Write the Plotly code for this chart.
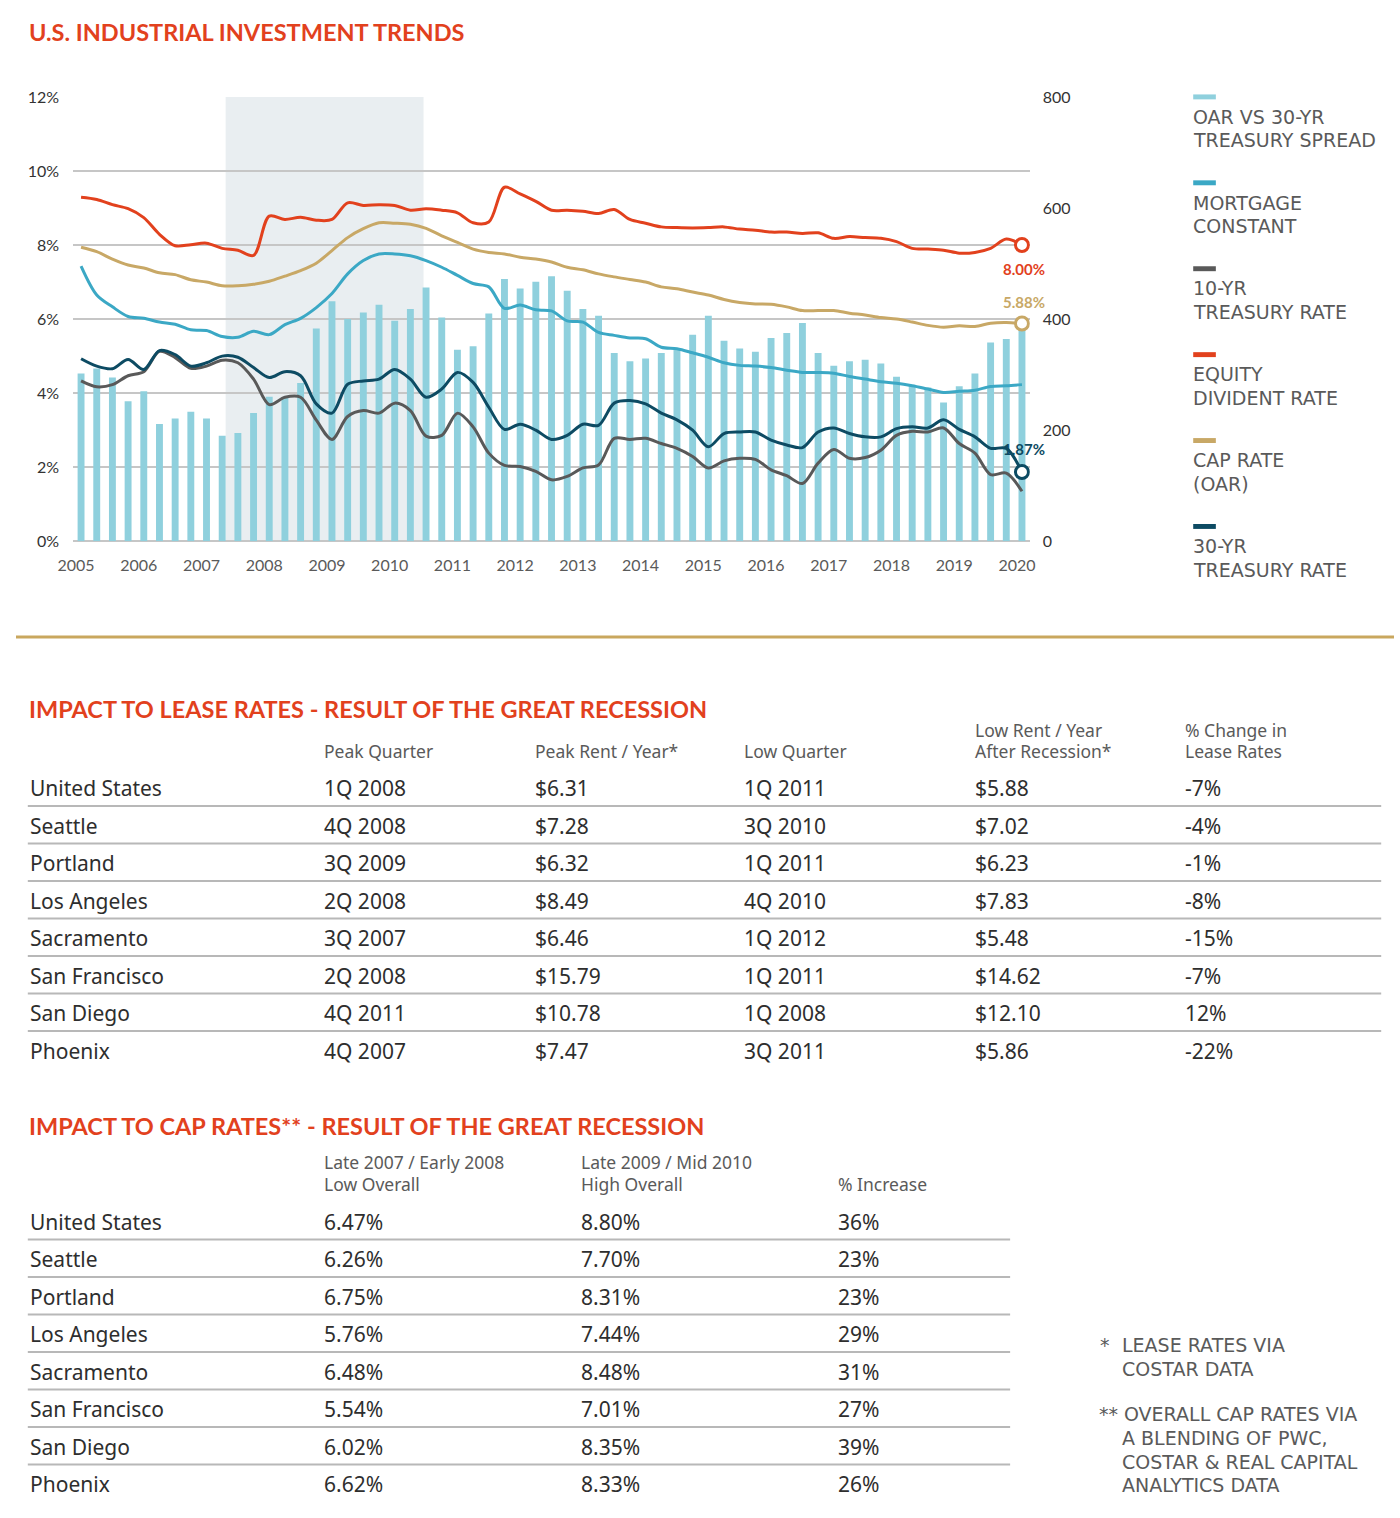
import plotly.graph_objects as go

W, H = 1400, 1518

# ---------------- DATA ----------------
quarters = [f"{y}Q{q}" for y in range(2005, 2021) for q in range(1, 5)][:61]

spread_bps = [302, 311, 295, 252, 270, 211, 221, 233, 221, 190,
              195, 231, 260, 259, 285, 383, 432, 400, 412, 426,
              397, 418, 457, 403, 345, 351, 410, 472, 455, 467,
              477, 451, 418, 406, 339, 324, 329, 339, 347, 372,
              406, 361, 347, 341, 366, 375, 393, 339, 316, 324,
              327, 320, 296, 280, 277, 250, 279, 302, 358, 364,
              391]

mortgage_constant = [7.43, 6.65, 6.33, 6.07, 6.02, 5.92, 5.86, 5.71, 5.69, 5.53,
                     5.51, 5.67, 5.58, 5.85, 6.02, 6.31, 6.69, 7.22, 7.58, 7.76,
                     7.76, 7.71, 7.58, 7.40, 7.18, 6.96, 6.87, 6.29, 6.38, 6.25,
                     6.22, 5.95, 5.92, 5.64, 5.56, 5.49, 5.47, 5.24, 5.20, 5.09,
                     4.97, 4.82, 4.75, 4.73, 4.69, 4.62, 4.56, 4.56, 4.54, 4.45,
                     4.38, 4.31, 4.27, 4.20, 4.11, 4.02, 4.05, 4.08, 4.18, 4.20,
                     4.23]

treasury_10yr = [4.33, 4.17, 4.23, 4.47, 4.58, 5.13, 4.96, 4.67, 4.73, 4.89,
                 4.82, 4.38, 3.69, 3.89, 3.89, 3.27, 2.75, 3.37, 3.53, 3.46,
                 3.73, 3.53, 2.84, 2.86, 3.46, 3.09, 2.38, 2.05, 2.02, 1.89,
                 1.66, 1.75, 1.98, 2.06, 2.78, 2.75, 2.78, 2.64, 2.51, 2.29,
                 1.98, 2.17, 2.24, 2.21, 1.93, 1.77, 1.56, 2.11, 2.48, 2.24,
                 2.26, 2.46, 2.86, 2.97, 2.95, 3.06, 2.64, 2.38, 1.80, 1.84,
                 1.35]

equity_dividend = [9.29, 9.23, 9.09, 8.98, 8.74, 8.29, 7.98, 8.01, 8.05, 7.91,
                   7.86, 7.72, 8.78, 8.69, 8.75, 8.67, 8.69, 9.14, 9.07, 9.09,
                   9.07, 8.94, 8.98, 8.94, 8.87, 8.60, 8.62, 9.56, 9.38, 9.18,
                   8.94, 8.94, 8.91, 8.85, 8.96, 8.69, 8.59, 8.49, 8.47, 8.46,
                   8.47, 8.49, 8.43, 8.40, 8.35, 8.35, 8.31, 8.33, 8.18, 8.23,
                   8.20, 8.18, 8.09, 7.91, 7.89, 7.86, 7.78, 7.80, 7.91, 8.16,
                   8.00]

cap_rate = [7.94, 7.82, 7.62, 7.46, 7.38, 7.25, 7.20, 7.06, 7.00, 6.90,
            6.90, 6.94, 7.02, 7.16, 7.31, 7.51, 7.85, 8.20, 8.44, 8.60,
            8.59, 8.56, 8.45, 8.25, 8.07, 7.89, 7.80, 7.76, 7.67, 7.62,
            7.54, 7.40, 7.33, 7.22, 7.14, 7.07, 7.00, 6.87, 6.82, 6.73,
            6.65, 6.53, 6.45, 6.41, 6.40, 6.33, 6.23, 6.23, 6.23, 6.16,
            6.11, 6.04, 6.00, 5.92, 5.83, 5.78, 5.82, 5.80, 5.89, 5.91,
            5.88]

treasury_30yr = [4.93, 4.73, 4.66, 4.91, 4.64, 5.15, 5.04, 4.73, 4.82, 5.00,
                 4.97, 4.69, 4.42, 4.58, 4.47, 3.71, 3.46, 4.24, 4.33, 4.38,
                 4.64, 4.38, 3.89, 4.11, 4.56, 4.29, 3.62, 3.02, 3.16, 3.00,
                 2.75, 2.86, 3.16, 3.13, 3.73, 3.80, 3.71, 3.46, 3.28, 3.00,
                 2.55, 2.91, 2.95, 2.95, 2.73, 2.60, 2.53, 2.95, 3.06, 2.91,
                 2.82, 2.82, 3.04, 3.09, 3.06, 3.28, 3.02, 2.82, 2.51, 2.51,
                 1.87]

years = list(range(2005, 2021))
pct_ticks = [0, 2, 4, 6, 8, 10, 12]
bps_ticks = [0, 200, 400, 600, 800]
recession_start, recession_end = 2007.385, 2010.54

legend_labels = [
    ("OAR VS 30-YR", "TREASURY SPREAD"),
    ("MORTGAGE", "CONSTANT"),
    ("10-YR", "TREASURY RATE"),
    ("EQUITY", "DIVIDENT RATE"),
    ("CAP RATE", "(OAR)"),
    ("30-YR", "TREASURY RATE"),
]

cities = ["United States", "Seattle", "Portland", "Los Angeles",
          "Sacramento", "San Francisco", "San Diego", "Phoenix"]
peak_quarter = ["1Q 2008", "4Q 2008", "3Q 2009", "2Q 2008", "3Q 2007", "2Q 2008", "4Q 2011", "4Q 2007"]
peak_rent = ["$6.31", "$7.28", "$6.32", "$8.49", "$6.46", "$15.79", "$10.78", "$7.47"]
low_quarter = ["1Q 2011", "3Q 2010", "1Q 2011", "4Q 2010", "1Q 2012", "1Q 2011", "1Q 2008", "3Q 2011"]
low_rent = ["$5.88", "$7.02", "$6.23", "$7.83", "$5.48", "$14.62", "$12.10", "$5.86"]
lease_change = ["-7%", "-4%", "-1%", "-8%", "-15%", "-7%", "12%", "-22%"]

cap_low = ["6.47%", "6.26%", "6.75%", "5.76%", "6.48%", "5.54%", "6.02%", "6.62%"]
cap_high = ["8.80%", "7.70%", "8.31%", "7.44%", "8.48%", "7.01%", "8.35%", "8.33%"]
cap_increase = ["36%", "23%", "23%", "29%", "31%", "27%", "39%", "26%"]

# ---------------- STYLE ----------------
RED = "#e2411d"
TAN = "#c8a866"
MORT = "#3ba8c5"
NAVY = "#0d4b63"
GRAY = "#595959"
BAR = "#8fd0dd"
TXT = "#2e2e2e"
SUB = "#5a5a5a"

def qx(q):
    y, n = int(q[:4]), int(q[-1])
    return y + (n - 1) * 0.25 + 0.08

xq = [qx(q) for q in quarters]

def px(x):
    return x / W

def py(y):
    return 1 - y / H

fig = go.Figure()

fig.add_trace(go.Bar(x=xq, y=spread_bps, width=0.11, marker=dict(color=BAR, line=dict(width=0)),
                     name="OAR VS 30-YR TREASURY SPREAD", yaxis="y", showlegend=False))

series = [
    ("MORTGAGE CONSTANT", mortgage_constant, MORT),
    ("CAP RATE (OAR)", cap_rate, TAN),
    ("EQUITY DIVIDENT RATE", equity_dividend, RED),
    ("10-YR TREASURY RATE", treasury_10yr, GRAY),
    ("30-YR TREASURY RATE", treasury_30yr, NAVY),
]
for name, vals, col in series:
    fig.add_trace(go.Scatter(x=xq, y=vals, mode="lines", name=name, yaxis="y2",
                             line=dict(color=col, width=3, shape="spline", smoothing=0.9),
                             showlegend=False))

for vals, col in [(equity_dividend, RED), (cap_rate, TAN), (treasury_30yr, NAVY)]:
    fig.add_trace(go.Scatter(x=[xq[-1]], y=[vals[-1]], mode="markers", yaxis="y2", showlegend=False,
                             marker=dict(symbol="circle", size=13, color="white",
                                         line=dict(color=col, width=3))))

fig.add_shape(type="rect", xref="x", yref="y2", x0=recession_start, x1=recession_end, y0=0, y1=12,
              fillcolor="#e9eef1", line=dict(width=0), layer="below")

annotations = []

def text(x, y, s, size, color, family="Lato", bold=False, xanchor="left", yanchor="middle"):
    annotations.append(dict(x=px(x), y=py(y), xref="paper", yref="paper", text=s, showarrow=False,
                            xanchor=xanchor, yanchor=yanchor,
                            font=dict(family=family, size=size, color=color,
                                      weight="bold" if bold else "normal")))

text(1024, 262, f"{equity_dividend[-1]:.2f}%", 15, RED, "Lato", True, "center")
text(1024, 296, f"{cap_rate[-1]:.2f}%", 15, TAN, "Lato", True, "center")
text(1024, 445, f"{treasury_30yr[-1]:.2f}%", 15, NAVY, "Lato", True, "center")

text(11, 22, "U.S. INDUSTRIAL INVESTMENT TRENDS", 23.5, RED, "Lato", True)

legend_colors = [BAR, MORT, GRAY, RED, TAN, NAVY]
shapes = []
for k, ((l1, l2), col) in enumerate(zip(legend_labels, legend_colors)):
    y0 = 88 + 87 * k
    shapes.append(dict(type="rect", xref="paper", yref="paper", x0=px(1196), x1=px(1219),
                       y0=py(y0 + 2.5), y1=py(y0 - 2.5), fillcolor=col, line=dict(width=0)))
    text(1194, y0 + 20, l1, 19, SUB, "DejaVu Sans")
    text(1194, y0 + 44, l2, 19, SUB, "DejaVu Sans")

shapes.append(dict(type="line", xref="paper", yref="paper", x0=0, x1=1, y0=py(635), y1=py(635),
                   line=dict(color="#c9a75e", width=3)))

text(11, 708, "IMPACT TO LEASE RATES - RESULT OF THE GREAT RECESSION", 23.5, RED, "Lato", True)
col_x = [12, 311, 525, 738, 972, 1186]
HS = 17.5
text(311, 750, "Peak Quarter", HS, SUB, "Noto Sans")
text(525, 750, "Peak Rent / Year*", HS, SUB, "Noto Sans")
text(738, 750, "Low Quarter", HS, SUB, "Noto Sans")
text(972, 729, "Low Rent / Year", HS, SUB, "Noto Sans")
text(972, 750, "After Recession*", HS, SUB, "Noto Sans")
text(1186, 729, "% Change in", HS, SUB, "Noto Sans")
text(1186, 750, "Lease Rates", HS, SUB, "Noto Sans")
for k in range(len(cities)):
    y = 788 + 38 * k
    for cx, vals in zip(col_x, [cities, peak_quarter, peak_rent, low_quarter, low_rent, lease_change]):
        text(cx, y, vals[k], 21, TXT, "Noto Sans")
    if k < len(cities) - 1:
        shapes.append(dict(type="line", xref="paper", yref="paper", x0=px(12), x1=px(1387),
                           y0=py(y + 18), y1=py(y + 18), line=dict(color="#b8b8b8", width=2)))

text(11, 1130, "IMPACT TO CAP RATES** - RESULT OF THE GREAT RECESSION", 23.5, RED, "Lato", True)
cap_x = [12, 311, 572, 833]
text(311, 1167, "Late 2007 / Early 2008", HS, SUB, "Noto Sans")
text(311, 1189, "Low Overall", HS, SUB, "Noto Sans")
text(572, 1167, "Late 2009 / Mid 2010", HS, SUB, "Noto Sans")
text(572, 1189, "High Overall", HS, SUB, "Noto Sans")
text(833, 1189, "% Increase", HS, SUB, "Noto Sans")
for k in range(len(cities)):
    y = 1227 + 38 * k
    for cx, vals in zip(cap_x, [cities, cap_low, cap_high, cap_increase]):
        text(cx, y, vals[k], 21, TXT, "Noto Sans")
    if k < len(cities) - 1:
        shapes.append(dict(type="line", xref="paper", yref="paper", x0=px(12), x1=px(1010),
                           y0=py(y + 18), y1=py(y + 18), line=dict(color="#b8b8b8", width=2)))

FS = 19
text(1099, 1352, "*", FS, SUB, "DejaVu Sans")
text(1122, 1352, "LEASE RATES VIA", FS, SUB, "DejaVu Sans")
text(1122, 1376, "COSTAR DATA", FS, SUB, "DejaVu Sans")
text(1098, 1422, "**", FS, SUB, "DejaVu Sans")
text(1124, 1422, "OVERALL CAP RATES VIA", FS, SUB, "DejaVu Sans")
text(1122, 1446, "A BLENDING OF PWC,", FS, SUB, "DejaVu Sans")
text(1122, 1470, "COSTAR & REAL CAPITAL", FS, SUB, "DejaVu Sans")
text(1122, 1494, "ANALYTICS DATA", FS, SUB, "DejaVu Sans")

fig.update_layout(
    width=W, height=H, autosize=False,
    margin=dict(l=0, r=0, t=0, b=0, pad=0),
    paper_bgcolor="white", plot_bgcolor="rgba(0,0,0,0)",
    showlegend=False,
    xaxis=dict(domain=[px(58), px(1030)], range=[2004.953, 2020.205], tickvals=years,
               ticktext=[str(y) for y in years], showgrid=False, zeroline=False, showline=False,
               ticks="", tickfont=dict(family="Lato", size=16, color=SUB), ticklabelstandoff=13,
               fixedrange=True),
    yaxis=dict(domain=[py(538), py(88)], range=[0, 800], side="right", tickvals=bps_ticks,
               ticktext=[str(v) for v in bps_ticks],
               showgrid=False, zeroline=False, showline=False, ticks="",
               tickfont=dict(family="Lato", size=16, color="#333"), ticklabelstandoff=12),
    yaxis2=dict(overlaying="y", side="left", range=[0, 12], tickvals=pct_ticks,
                ticktext=[f"{v}%" for v in pct_ticks], showgrid=True, gridcolor="#c6c6c6", gridwidth=1.5,
                zeroline=True, zerolinecolor="#c6c6c6", zerolinewidth=1.5, showline=False, ticks="",
                tickfont=dict(family="Lato", size=16, color="#333"), ticklabelstandoff=13),
    annotations=annotations,
    shapes=fig.layout.shapes + tuple(shapes),
)

fig.write_html("out.html", config={"displayModeBar": False},
               post_script="document.body.style.margin='0px';")
